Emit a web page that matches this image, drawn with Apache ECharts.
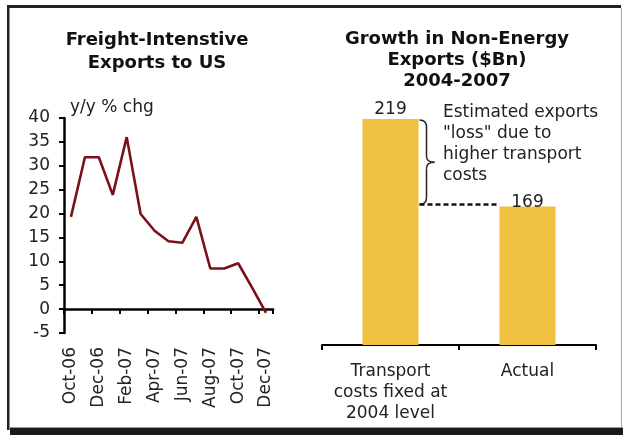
<!DOCTYPE html>
<html>
<head>
<meta charset="utf-8">
<title>Freight-Intensive Exports / Non-Energy Exports</title>
<script src="https://cdn.jsdelivr.net/npm/echarts@6/dist/echarts.min.js"></script>
<style>
html, body { margin: 0; padding: 0; background: #fff; }
#main { width: 623px; height: 435px; }
</style>
</head>
<body>
<div id="main"></div>
<script>
// ---------------- left panel: freight-intensive exports to US (y/y % chg)
var months = ['Oct-06', 'Nov-06', 'Dec-06', 'Jan-07', 'Feb-07', 'Mar-07', 'Apr-07', 'May-07',
              'Jun-07', 'Jul-07', 'Aug-07', 'Sep-07', 'Oct-07', 'Nov-07', 'Dec-07'];
var yoyChange = [19.3, 31.8, 31.8, 23.9, 36.0, 19.9, 16.4, 14.2, 13.9, 19.3, 8.5, 8.5, 9.6, 4.5, -0.8];
var yoyMin = -5, yoyMax = 40, yoyStep = 5;

// ---------------- right panel: growth in non-energy exports ($Bn) 2004-2007
var scenarios = ['Transport\ncosts fixed at\n2004 level', 'Actual'];
var exportGrowth = [219, 169];
var growthMin = 90;

var font = 'DejaVu Sans';
var textColor = '#222';
var barWidth = 56;

var chart = echarts.init(document.getElementById('main'));
chart.setOption({
    animation: false,
    textStyle: { fontFamily: font },
    grid: [
        { left: 64, top: 118, width: 209, height: 215 },
        { left: 322, top: 119, width: 274, height: 226 }
    ],
    xAxis: [
        {
            gridIndex: 0,
            type: 'category',
            data: months,
            axisLine: { lineStyle: { color: '#000', width: 2.5 } },
            axisTick: { show: true, interval: 1, length: 5, lineStyle: { color: '#000', width: 2 } },
            axisLabel: { interval: 1, rotate: 90, margin: 14, fontSize: 17, color: textColor }
        },
        {
            gridIndex: 1,
            type: 'category',
            data: scenarios,
            axisLine: { lineStyle: { color: '#000', width: 2 } },
            axisTick: { show: true, interval: 0, length: 5, lineStyle: { color: '#000', width: 2 } },
            axisLabel: { interval: 0, margin: 16, fontSize: 17, lineHeight: 21, color: textColor, align: 'center' }
        }
    ],
    yAxis: [
        {
            gridIndex: 0,
            type: 'value',
            min: yoyMin,
            max: yoyMax,
            interval: yoyStep,
            splitLine: { show: false },
            axisLine: { show: true, lineStyle: { color: '#000', width: 2.5 } },
            axisTick: { show: true, length: 5, lineStyle: { color: '#000', width: 2 } },
            axisLabel: { margin: 14, fontSize: 17, color: textColor }
        },
        {
            gridIndex: 1,
            type: 'value',
            min: growthMin,
            max: exportGrowth[0],
            show: false,
            splitLine: { show: false }
        }
    ],
    series: [
        {
            type: 'line',
            xAxisIndex: 0,
            yAxisIndex: 0,
            data: yoyChange,
            symbol: 'none',
            lineStyle: { color: '#7B1018', width: 2.6 }
        },
        {
            type: 'bar',
            xAxisIndex: 1,
            yAxisIndex: 1,
            // the "Actual" label sits lower, right on the bar top, in the original
            data: exportGrowth.map(function (v, i) {
                return i === 1 ? { value: v, label: { distance: -4 } } : v;
            }),
            barWidth: barWidth,
            itemStyle: { color: '#F0C040' },
            label: { show: true, position: 'top', distance: 1, fontSize: 17, color: textColor }
        }
    ]
});

// brace + dashed line between the two bars, placed from the bar scale
var pFixed = chart.convertToPixel({ xAxisIndex: 1, yAxisIndex: 1 }, [0, exportGrowth[0]]);
var pActual = chart.convertToPixel({ xAxisIndex: 1, yAxisIndex: 1 }, [1, exportGrowth[1]]);
var bx = pFixed[0] + barWidth / 2 + 1;
var yTop = pFixed[1] + 1;
var yBot = pActual[1] - 2;
var yMid = (yTop + yBot) / 2;
var vx = bx + 7;
var braceStyle = { fill: null, stroke: '#222', lineWidth: 1.5 };
function curve(x1, y1, cx, cy, x2, y2) {
    return { type: 'bezierCurve', shape: { x1: x1, y1: y1, cpx1: cx, cpy1: cy, x2: x2, y2: y2 }, style: braceStyle };
}
function seg(x1, y1, x2, y2) {
    return { type: 'line', shape: { x1: x1, y1: y1, x2: x2, y2: y2 }, style: braceStyle };
}

chart.setOption({
    graphic: [
        // frame
        { type: 'rect', shape: { x: 7, y: 5, width: 614, height: 3 }, style: { fill: '#222' } },
        { type: 'rect', shape: { x: 7, y: 5, width: 2.5, height: 425 }, style: { fill: '#222' } },
        { type: 'rect', shape: { x: 621, y: 8, width: 1, height: 420 }, style: { fill: '#aaa' } },
        { type: 'rect', shape: { x: 10, y: 427, width: 613, height: 1 }, style: { fill: '#999' } },
        { type: 'rect', shape: { x: 10, y: 428, width: 613, height: 7 }, style: { fill: '#1a1a1a' } },
        // titles
        {
            type: 'text', x: 157, y: 29,
            style: { text: 'Freight-Intenstive\nExports to US', textAlign: 'center', textVerticalAlign: 'top',
                     font: 'bold 18px "DejaVu Sans"', lineHeight: 23, fill: '#111' }
        },
        {
            type: 'text', x: 457, y: 29,
            style: { text: 'Growth in Non-Energy\nExports ($Bn)\n2004-2007', textAlign: 'center', textVerticalAlign: 'top',
                     font: 'bold 18px "DejaVu Sans"', lineHeight: 21, fill: '#111' }
        },
        {
            type: 'text', x: 70, y: 99,
            style: { text: 'y/y % chg', textVerticalAlign: 'top', font: '17px "DejaVu Sans"', fill: textColor }
        },
        // annotation
        {
            type: 'text', x: 443, y: 102,
            style: { text: 'Estimated exports\n"loss" due to\nhigher transport\ncosts', textVerticalAlign: 'top',
                     font: '17px "DejaVu Sans"', lineHeight: 21, fill: textColor }
        },
        // brace "}"
        curve(bx, yTop, vx, yTop, vx, yTop + 7),
        seg(vx, yTop + 7, vx, yMid - 6),
        curve(vx, yMid - 6, vx, yMid, vx + 8, yMid),
        curve(vx + 8, yMid, vx, yMid, vx, yMid + 6),
        seg(vx, yMid + 6, vx, yBot - 7),
        curve(vx, yBot - 7, vx, yBot, bx, yBot),
        // dashed link to the actual bar
        {
            type: 'line',
            shape: { x1: bx, y1: yBot, x2: pActual[0] - barWidth / 2 - 2, y2: yBot },
            style: { stroke: '#111', lineWidth: 2.5, lineDash: [5, 3] }
        }
    ]
});
</script>
</body>
</html>
